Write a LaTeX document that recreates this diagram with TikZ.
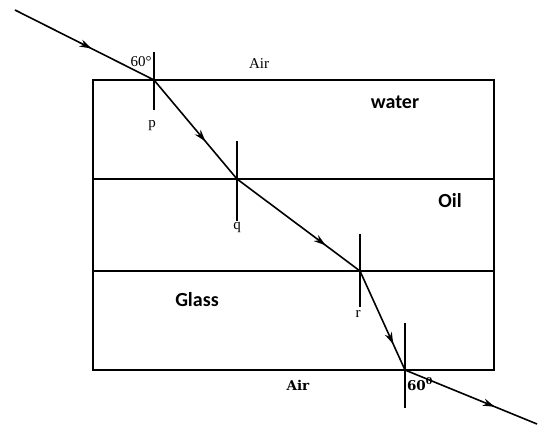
\documentclass[tikz,border=0pt]{standalone}
\usepackage{fontspec}
\setmainfont{Liberation Serif}
\newfontfamily\mediumfont{Carlito}
\newfontfamily\slabfont{DejaVu Serif}
\usetikzlibrary{decorations.markings, arrows.meta}

\begin{document}
\begin{tikzpicture}[x=1pt, y=-1pt, line width=1.6pt,
    ray/.style={postaction={decorate}, decoration={markings,
        mark=at position #1 with {\arrow{Stealth[length=12pt,width=7.5pt]}}}},
    medium/.style={font=\mediumfont\bfseries\fontsize{20}{22}\selectfont},
    thin label/.style={font=\fontsize{15}{17}\selectfont},
    bold label/.style={font=\slabfont\bfseries\fontsize{13.5}{15}\selectfont}]
        \useasboundingbox (0,0) rectangle (547,431);

        % layers of the slab
        \draw (93,80) rectangle (494,370);
        \draw (93,179) -- (494,179);
        \draw (93,271) -- (494,271);

        % points where the ray meets a surface
        \coordinate (start) at (15,10);
        \coordinate (p) at (154,80);
        \coordinate (q) at (237,179);
        \coordinate (r) at (360,271);
        \coordinate (s) at (405,370);
        \coordinate (stop) at (537,424);

        % normals
        \draw ([yshift=28pt]p) -- ([yshift=-30pt]p);
        \draw ([yshift=38pt]q) -- ([yshift=-42pt]q);
        \draw ([yshift=37pt]r) -- ([yshift=-36pt]r);
        \draw ([yshift=47pt]s) -- ([yshift=-38pt]s);

        % the ray
        \draw[ray=0.55] (start) -- (p);
        \draw[ray=0.62] (p) -- (q);
        \draw[ray=0.72] (q) -- (r);
        \draw[ray=0.74] (r) -- (s);
        \draw[ray=0.68] (s) -- (stop);

        % labels
        \node[thin label] (angle in) at (141,62) {60°};
        \node[thin label] (air top) at (259,64) {Air};
        \node[thin label] (p label) at (152,126) {p};
        \node[thin label] (q label) at (237,227) {q};
        \node[thin label] (r label) at (358,314) {r};
        \node[medium] (water) at (395,102) {water};
        \node[medium] (oil) at (450,201) {Oil};
        \node[medium] (glass) at (197,300) {Glass};
        \node[bold label] (air bottom) at (298,385) {Air};
        \node[bold label] (angle out) at (420,384) {60\textsuperscript{0}};
\end{tikzpicture}
\end{document}
